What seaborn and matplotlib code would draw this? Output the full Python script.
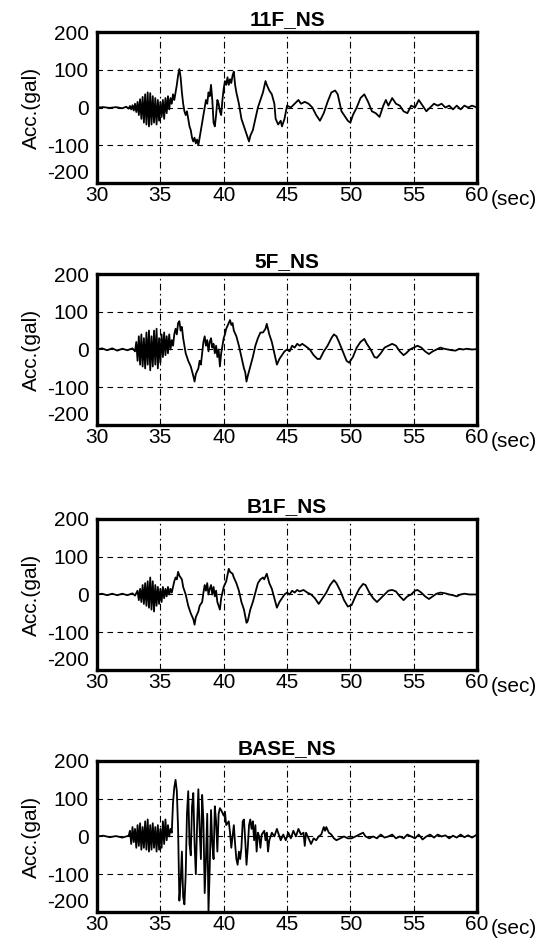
import matplotlib
matplotlib.use("Agg")
import matplotlib.pyplot as plt
import numpy as np
import pandas as pd
import seaborn as sns

# ---------------- data (time [s], acceleration [gal]) ----------------
acc_11F = [
    (30.0, 0), (30.5, 1), (31.0, -1), (31.5, 1), (32.0, -2), (32.3, 2), (32.5, -3), (32.6, 4),
    (32.7, -5), (32.8, 6), (32.9, -8), (33.0, 10), (33.1, -12), (33.2, 15), (33.3, -20), (33.4, 22),
    (33.5, -30), (33.6, 28), (33.7, -40), (33.8, 35), (33.9, -45), (34.0, 40), (34.1, -50), (34.2, 38),
    (34.3, -45), (34.4, 30), (34.5, -40), (34.6, 25), (34.7, -45), (34.8, 20), (34.9, -35), (35.0, 15),
    (35.1, -25), (35.2, 20), (35.3, -30), (35.4, 25), (35.5, -15), (35.6, 30), (35.7, -5), (35.8, 25),
    (35.9, 10), (36.0, 35), (36.1, 20), (36.2, 40), (36.3, 60), (36.4, 85), (36.5, 102), (36.6, 80),
    (36.7, 40), (36.8, 10), (36.9, -10), (37.0, -20), (37.1, -10), (37.2, -30), (37.3, -50), (37.4, -60),
    (37.5, -80), (37.6, -90), (37.7, -80), (37.8, -95), (37.9, -85), (38.0, -100), (38.1, -80), (38.3, -40),
    (38.5, 0), (38.6, 20), (38.7, 10), (38.8, 40), (38.9, 30), (39.0, 60), (39.1, 20), (39.2, -40),
    (39.3, -50), (39.4, -20), (39.5, 20), (39.6, 10), (39.7, -10), (39.8, -20), (39.9, 20), (40.0, 50),
    (40.1, 70), (40.2, 60), (40.3, 80), (40.4, 60), (40.5, 75), (40.6, 65), (40.7, 85), (40.8, 95),
    (40.9, 60), (41.0, 40), (41.2, 10), (41.4, -30), (41.6, -50), (41.8, -70), (42.0, -90), (42.1, -75),
    (42.3, -60), (42.5, -30), (42.7, 0), (42.9, 20), (43.1, 40), (43.3, 70), (43.4, 60), (43.6, 45),
    (43.8, 35), (44.0, 10), (44.1, -30), (44.3, -45), (44.5, -35), (44.6, -50), (44.8, -30), (45.0, 5),
    (45.3, 0), (45.6, 10), (45.9, 20), (46.1, 10), (46.4, 15), (46.7, 10), (47.0, 0), (47.3, -20),
    (47.6, -35), (47.9, -15), (48.2, 15), (48.5, 40), (48.8, 45), (49.0, 35), (49.3, -10), (49.6, -25),
    (49.8, -35), (50.0, -40), (50.2, -20), (50.5, 0), (50.8, 25), (51.1, 35), (51.4, 15), (51.7, -10),
    (52.0, -15), (52.3, -25), (52.6, 5), (52.8, 20), (53.0, 5), (53.3, 25), (53.6, 10), (53.9, 5),
    (54.2, -10), (54.5, -15), (54.8, 5), (55.1, 0), (55.4, 20), (55.7, 5), (56.0, -10), (56.3, 0),
    (56.6, 10), (56.9, 5), (57.2, 10), (57.5, 0), (57.8, 5), (58.1, -5), (58.4, 5), (58.7, -5),
    (59.0, 5), (59.3, 0), (59.6, 5), (60.0, 0),
]

acc_5F = [
    (30.0, 0), (30.4, 3), (30.8, -2), (31.2, 3), (31.6, -3), (32.0, 2), (32.4, -2), (32.8, 3),
    (33.0, -5), (33.1, 20), (33.2, -30), (33.3, 35), (33.4, -40), (33.5, 40), (33.6, -45), (33.7, 30),
    (33.8, -50), (33.9, 45), (34.0, -40), (34.1, 50), (34.2, -55), (34.3, 35), (34.4, -45), (34.5, 50),
    (34.6, -40), (34.7, 55), (34.8, -50), (34.9, 30), (35.0, -35), (35.1, 40), (35.2, -20), (35.3, 45),
    (35.4, -15), (35.5, 35), (35.6, -10), (35.7, 40), (35.8, 0), (35.9, 25), (36.0, 10), (36.1, 40),
    (36.2, 55), (36.3, 40), (36.4, 70), (36.5, 75), (36.6, 50), (36.7, 60), (36.8, 30), (36.9, 10),
    (37.0, -10), (37.2, -30), (37.4, -45), (37.6, -70), (37.7, -85), (37.8, -65), (38.0, -50), (38.1, -30),
    (38.2, -40), (38.3, -10), (38.4, 20), (38.5, 35), (38.6, 10), (38.7, 25), (38.8, -5), (38.9, 20),
    (39.0, 30), (39.1, 5), (39.2, 15), (39.3, -10), (39.4, 10), (39.5, -20), (39.6, 0), (39.7, -45),
    (39.8, -10), (39.9, 10), (40.0, 30), (40.1, 40), (40.2, 55), (40.4, 70), (40.5, 78), (40.6, 65),
    (40.7, 70), (40.8, 50), (41.0, 35), (41.2, 10), (41.4, -20), (41.6, -50), (41.7, -60), (41.8, -85),
    (41.9, -70), (42.1, -45), (42.3, -20), (42.5, 10), (42.7, 30), (42.9, 45), (43.1, 45), (43.3, 55),
    (43.4, 68), (43.6, 40), (43.8, 20), (44.0, -10), (44.2, -40), (44.4, -25), (44.6, -15), (44.8, -5),
    (45.0, 0), (45.2, -5), (45.4, 10), (45.6, 5), (45.8, 15), (46.0, 10), (46.2, 15), (46.5, 8),
    (46.8, 0), (47.1, -15), (47.4, -25), (47.6, -25), (47.9, -5), (48.2, 10), (48.5, 30), (48.7, 40),
    (48.9, 35), (49.1, 20), (49.4, -5), (49.7, -30), (49.9, -35), (50.2, -20), (50.5, 5), (50.8, 20),
    (51.1, 28), (51.3, 15), (51.6, 0), (51.9, -20), (52.1, -22), (52.4, -10), (52.7, 5), (53.0, 10),
    (53.3, 15), (53.6, 10), (53.9, -5), (54.2, -15), (54.4, -10), (54.7, 0), (55.0, 5), (55.3, 10),
    (55.6, 5), (55.9, -5), (56.2, -12), (56.5, -5), (56.8, 0), (57.1, 5), (57.4, 2), (57.7, 0),
    (58.0, -2), (58.3, -3), (58.6, 2), (58.9, 0), (59.2, 2), (59.6, 0), (60.0, 1),
]

acc_B1F = [
    (30.0, 0), (30.4, 2), (30.8, -2), (31.2, 2), (31.6, -2), (32.0, 2), (32.4, -2), (32.8, 3),
    (33.0, -3), (33.2, 10), (33.3, -15), (33.4, 15), (33.5, -20), (33.6, 25), (33.7, -25), (33.8, 30),
    (33.9, -30), (34.0, 35), (34.1, -35), (34.2, 45), (34.3, -40), (34.4, 35), (34.5, -45), (34.6, 25),
    (34.7, -30), (34.8, 20), (34.9, -25), (35.0, 15), (35.1, -20), (35.2, 20), (35.3, -10), (35.4, 15),
    (35.5, -5), (35.6, 20), (35.7, 0), (35.8, 15), (35.9, 5), (36.0, 20), (36.1, 35), (36.2, 45),
    (36.3, 40), (36.4, 60), (36.5, 50), (36.6, 45), (36.7, 40), (36.8, 20), (37.0, 0), (37.2, -30),
    (37.4, -50), (37.6, -65), (37.7, -80), (37.8, -60), (38.0, -45), (38.1, -30), (38.3, -20), (38.4, 5),
    (38.5, 25), (38.6, 10), (38.7, 30), (38.8, 0), (38.9, 15), (39.0, 25), (39.1, 0), (39.2, 20),
    (39.3, -5), (39.4, 10), (39.5, -20), (39.7, -40), (39.8, -10), (40.0, 20), (40.2, 35), (40.4, 68),
    (40.5, 60), (40.7, 55), (40.8, 45), (41.0, 30), (41.2, 10), (41.4, -20), (41.6, -40), (41.8, -75),
    (41.9, -70), (42.1, -40), (42.3, -20), (42.5, 5), (42.7, 30), (42.9, 40), (43.1, 45), (43.2, 40),
    (43.4, 55), (43.6, 30), (43.8, 15), (44.0, -10), (44.2, -35), (44.4, -20), (44.6, -10), (44.8, 0),
    (45.0, 5), (45.2, 0), (45.4, 10), (45.6, 5), (45.8, 12), (46.0, 8), (46.3, 12), (46.6, 5),
    (46.9, 0), (47.2, -10), (47.5, -25), (47.8, -10), (48.1, 5), (48.4, 25), (48.7, 38), (48.9, 30),
    (49.2, 10), (49.5, -15), (49.8, -32), (50.1, -28), (50.4, -5), (50.7, 15), (51.0, 28), (51.2, 25),
    (51.5, 5), (51.8, -10), (52.1, -20), (52.4, -10), (52.7, 0), (53.0, 10), (53.3, 12), (53.6, 8),
    (53.9, -5), (54.2, -15), (54.5, -5), (54.8, 0), (55.1, 10), (55.3, 12), (55.6, 5), (55.9, -5),
    (56.2, -12), (56.5, -5), (56.8, 2), (57.1, 5), (57.5, 3), (57.8, 0), (58.1, -2), (58.4, -5),
    (58.7, 0), (59.0, 2), (59.4, 0), (60.0, 0),
]

acc_BASE = [
    (30.0, 0), (30.5, 2), (31.0, -2), (31.5, 1), (32.0, -3), (32.5, 2), (32.6, 15), (32.7, -20),
    (32.8, 25), (32.9, -15), (33.0, 20), (33.1, -30), (33.2, 30), (33.3, -25), (33.4, 35), (33.5, -35),
    (33.6, 25), (33.7, -30), (33.8, 40), (33.9, -35), (34.0, 45), (34.1, -40), (34.2, 30), (34.3, -35),
    (34.4, 35), (34.5, -30), (34.6, 25), (34.7, -40), (34.8, 30), (34.9, -35), (35.0, 20), (35.1, -30),
    (35.2, 40), (35.3, -20), (35.4, 45), (35.5, -10), (35.6, 30), (35.7, 0), (35.8, 20), (35.9, 10),
    (36.0, 90), (36.1, 130), (36.2, 150), (36.3, 120), (36.4, 20), (36.5, -170), (36.6, -120), (36.7, -40),
    (36.8, -160), (36.9, -180), (37.0, -100), (37.1, 60), (37.2, 120), (37.3, -20), (37.4, -50), (37.5, 80),
    (37.6, 115), (37.7, -20), (37.8, -100), (37.9, 30), (38.0, 125), (38.1, 20), (38.2, -60), (38.3, 110),
    (38.4, 40), (38.5, -150), (38.6, -60), (38.7, 60), (38.8, -200), (38.9, -80), (39.0, 70), (39.1, -20),
    (39.2, -60), (39.3, 80), (39.4, 40), (39.5, -40), (39.6, 60), (39.7, 75), (39.8, 70), (40.0, 55),
    (40.1, 65), (40.2, 30), (40.4, 40), (40.5, 10), (40.6, -30), (40.7, 0), (40.8, 30), (40.9, -20),
    (41.0, -60), (41.1, -75), (41.2, -40), (41.3, -60), (41.4, -30), (41.5, 40), (41.6, 45), (41.7, -10),
    (41.8, -75), (41.9, -30), (42.0, 30), (42.1, 45), (42.2, 20), (42.3, 40), (42.4, -10), (42.5, 30),
    (42.6, -40), (42.7, 10), (42.8, 0), (42.9, -30), (43.0, 5), (43.2, 15), (43.3, -10), (43.4, 10),
    (43.5, -40), (43.6, -10), (43.8, 10), (44.0, 0), (44.2, 20), (44.3, 10), (44.5, -10), (44.7, 5),
    (44.9, -10), (45.1, 10), (45.3, -5), (45.5, 15), (45.7, 0), (45.9, 20), (46.1, 5), (46.3, 10),
    (46.4, -25), (46.5, 10), (46.7, -5), (46.9, -20), (47.1, -5), (47.3, -10), (47.5, 0), (47.7, 5),
    (47.9, 25), (48.0, 15), (48.1, 25), (48.3, 10), (48.5, 5), (48.7, -5), (48.9, -10), (49.2, -5),
    (49.5, 0), (49.8, -5), (50.1, -5), (50.4, 0), (50.7, 5), (51.0, 10), (51.2, 0), (51.5, -5),
    (51.8, 0), (52.1, -5), (52.4, 5), (52.7, -3), (53.0, 0), (53.3, 5), (53.6, -5), (53.9, 0),
    (54.2, -5), (54.5, 5), (54.8, 0), (55.1, -5), (55.4, 5), (55.7, -8), (56.0, 0), (56.3, 5),
    (56.6, -3), (56.9, 5), (57.2, 0), (57.5, 3), (57.8, -5), (58.1, 2), (58.4, -3), (58.7, 5),
    (59.0, -2), (59.3, 3), (59.6, -3), (60.0, 5),
]

titles = ["11F_NS", "5F_NS", "B1F_NS", "BASE_NS"]
series = [acc_11F, acc_5F, acc_B1F, acc_BASE]
x_ticks = [30, 35, 40, 45, 50, 55, 60]
y_ticks = [-200, -100, 0, 100, 200]

# ---------------- figure ----------------
sns.set_style("white")
plt.rcParams["font.family"] = ["Liberation Sans", "DejaVu Sans"]
plt.rcParams["text.color"] = "black"
plt.rcParams["axes.labelcolor"] = "black"
plt.rcParams["xtick.color"] = "black"
plt.rcParams["ytick.color"] = "black"
plt.rcParams["xtick.labelcolor"] = "black"
plt.rcParams["ytick.labelcolor"] = "black"

fig = plt.figure(figsize=(5.56, 9.39), dpi=100)
bottoms = [0.8051, 0.5474, 0.2865, 0.0288]
left, width, height = 0.1745, 0.6835, 0.1608

for title, data, b in zip(titles, series, bottoms):
    ax = fig.add_axes([left, b, width, height])
    df = pd.DataFrame(data, columns=["t", "acc"])
    sns.lineplot(data=df, x="t", y="acc", ax=ax, color="black", lw=1.3,
                 sort=False, estimator=None)
    ax.set_xlim(30, 60)
    ax.set_ylim(-200, 200)
    ax.set_xticks(x_ticks)
    ax.set_yticks(y_ticks)
    ax.set_xticklabels([str(v) for v in x_ticks])
    ax.set_yticklabels([str(v) for v in y_ticks])
    ax.tick_params(axis="y", labelsize=15, length=0, pad=6, labelcolor="black")
    ax.tick_params(axis="x", labelsize=15, length=0, pad=2, labelcolor="black")
    for lbl in ax.get_yticklabels():
        if lbl.get_text() == "-200":
            lbl.set_va("bottom")
    for v in x_ticks[1:-1]:
        ax.axvline(v, color="black", lw=0.8, ls=(0, (6, 3, 1.5, 3)), zorder=0)
    for v in y_ticks[1:-1]:
        ax.axhline(v, color="black", lw=0.8, ls=(0, (5, 4)), zorder=0)
    for s in ax.spines.values():
        s.set_linewidth(2.4)
        s.set_color("black")
        s.set_visible(True)
    ax.set_xlabel("")
    ax.set_ylabel("Acc.(gal)", fontsize=15, labelpad=4, color="black")
    ax.set_title(title, fontsize=15, fontweight="bold", pad=5, color="black")
    ax.text(1.035, -0.045, "(sec)", transform=ax.transAxes, fontsize=15,
            ha="left", va="top", color="black")

fig.savefig("out.png", dpi=100)
